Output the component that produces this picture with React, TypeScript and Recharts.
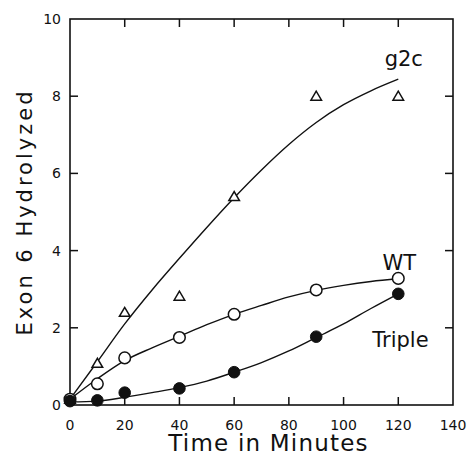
import React from 'react';
import { ComposedChart, Line, Scatter, XAxis, YAxis, ReferenceDot } from 'recharts';

// Fitted curve samples
const fitTimes = [0, 10, 20, 30, 40, 50, 60, 70, 80, 90, 100, 110, 120];
const g2cFit = [0.15, 1.12, 2.1, 2.98, 3.8, 4.6, 5.37, 6.09, 6.75, 7.32, 7.78, 8.14, 8.44];
const wtFit = [0.15, 0.68, 1.15, 1.48, 1.78, 2.08, 2.35, 2.58, 2.8, 2.97, 3.1, 3.2, 3.27];
const tripleFit = [0.08, 0.1, 0.2, 0.32, 0.45, 0.62, 0.85, 1.1, 1.4, 1.75, 2.1, 2.5, 2.88];

// Measured points
const pointTimes = [0, 10, 20, 40, 60, 90, 120];
const g2cPoints = [0.15, 1.08, 2.4, 2.82, 5.4, 8.0, 8.0];
const wtPoints = [0.15, 0.55, 1.22, 1.75, 2.35, 2.98, 3.28];
const triplePoints = [0.1, 0.12, 0.32, 0.43, 0.85, 1.77, 2.88];

const xTicks = [0, 20, 40, 60, 80, 100, 120, 140];
const yTicks = [0, 2, 4, 6, 8, 10];
const innerXTicks = [20, 40, 60, 80, 100, 120];
const innerYTicks = [2, 4, 6, 8];

const seriesLabels = [
  { text: 'g2c', x: 122, y: 8.97 },
  { text: 'WT', x: 120.4, y: 3.68 },
  { text: 'Triple', x: 120.8, y: 1.69 },
];

const X_MIN = 0;
const X_MAX = 140;
const Y_MIN = 0;
const Y_MAX = 10;

// layout
const CHART_W = 471;
const CHART_H = 453;
const MARGIN = { top: 19, right: 18, bottom: 0, left: 0 };
const Y_AXIS_W = 70;
const X_AXIS_H = 48;
const PLOT_W = CHART_W - MARGIN.left - MARGIN.right - Y_AXIS_W;
const PLOT_H = CHART_H - MARGIN.top - MARGIN.bottom - X_AXIS_H;
const TICK_LEN = 8;

const INK = '#111';
const FONT = 'DejaVu Sans';

const pair = (xs: number[], ys: number[]) => xs.map((x, i) => ({ x, y: ys[i] }));

const frameAnchor = [{ x: X_MIN, y: Y_MAX }];
const bottomTickPts = innerXTicks.map((t) => ({ x: t, y: Y_MIN }));
const topTickPts = innerXTicks.map((t) => ({ x: t, y: Y_MAX }));
const leftTickPts = innerYTicks.map((t) => ({ x: X_MIN, y: t }));
const rightTickPts = innerYTicks.map((t) => ({ x: X_MAX, y: t }));

const FrameShape = (p: any) => (
  <rect x={p.cx} y={p.cy} width={PLOT_W} height={PLOT_H} fill="none" stroke={INK} strokeWidth={1.6} />
);
const UpTick = (p: any) => <path d={`M${p.cx},${p.cy}V${p.cy - TICK_LEN}`} stroke={INK} strokeWidth={1.5} fill="none" />;
const DownTick = (p: any) => <path d={`M${p.cx},${p.cy}V${p.cy + TICK_LEN}`} stroke={INK} strokeWidth={1.5} fill="none" />;
const RightwardTick = (p: any) => <path d={`M${p.cx},${p.cy}H${p.cx + TICK_LEN}`} stroke={INK} strokeWidth={1.5} fill="none" />;
const LeftwardTick = (p: any) => <path d={`M${p.cx},${p.cy}H${p.cx - TICK_LEN}`} stroke={INK} strokeWidth={1.5} fill="none" />;

const BottomTick = (props: any) => {
  const { x, y, payload } = props;
  return (
    <text x={x} y={y + 25} textAnchor="middle" fontSize={14} fontFamily={FONT} fill={INK}>
      {payload.value}
    </text>
  );
};

const LeftTick = (props: any) => {
  const { x, y, payload } = props;
  return (
    <text x={x - 9} y={y + 5} textAnchor="end" fontSize={14} fontFamily={FONT} fill={INK}>
      {payload.value}
    </text>
  );
};

const Triangle = (props: any) => {
  const { cx, cy } = props;
  return (
    <polygon
      points={`${cx},${cy - 5} ${cx - 5.3},${cy + 4} ${cx + 5.3},${cy + 4}`}
      fill="#fff"
      stroke={INK}
      strokeWidth={1.5}
    />
  );
};

const OpenCircle = (props: any) => {
  const { cx, cy } = props;
  return <circle cx={cx} cy={cy} r={5.8} fill="#fff" stroke={INK} strokeWidth={1.5} />;
};

const FilledCircle = (props: any) => {
  const { cx, cy } = props;
  return <circle cx={cx} cy={cy} r={5.8} fill={INK} stroke={INK} strokeWidth={1} />;
};

export default function App() {
  return (
    <div style={{ position: 'absolute', left: 0, top: 0, width: CHART_W, height: CHART_H, background: '#fff' }}>
      <ComposedChart width={CHART_W} height={CHART_H} margin={MARGIN}>
        <XAxis
          dataKey="x"
          type="number"
          domain={[X_MIN, X_MAX]}
          ticks={xTicks}
          tickSize={0}
          tickMargin={0}
          tickLine={false}
          axisLine={false}
          tick={<BottomTick />}
          height={X_AXIS_H}
          label={({ viewBox }: any) => (
            <text
              x={viewBox.x + viewBox.width / 2 + 7}
              y={viewBox.y + 46}
              textAnchor="middle"
              fontSize={23}
              letterSpacing={1.2}
              fontFamily={FONT}
              fill={INK}
            >
              Time in Minutes
            </text>
          )}
        />
        <YAxis
          type="number"
          domain={[Y_MIN, Y_MAX]}
          ticks={yTicks}
          tickSize={0}
          tickMargin={0}
          tickLine={false}
          axisLine={false}
          tick={<LeftTick />}
          width={Y_AXIS_W}
          label={({ viewBox }: any) => {
            const cx = viewBox.x + 25;
            const cy = viewBox.y + viewBox.height / 2;
            return (
              <text
                x={cx}
                y={cy}
                transform={`rotate(-90 ${cx} ${cy})`}
                textAnchor="middle"
                dominantBaseline="central"
                fontSize={21}
                letterSpacing={3}
                fontFamily={FONT}
                fill={INK}
              >
                Exon 6 Hydrolyzed
              </text>
            );
          }}
        />

        <Scatter data={frameAnchor} dataKey="y" shape={<FrameShape />} isAnimationActive={false} />
        <Scatter data={bottomTickPts} dataKey="y" shape={<UpTick />} isAnimationActive={false} />
        <Scatter data={topTickPts} dataKey="y" shape={<DownTick />} isAnimationActive={false} />
        <Scatter data={leftTickPts} dataKey="y" shape={<RightwardTick />} isAnimationActive={false} />
        <Scatter data={rightTickPts} dataKey="y" shape={<LeftwardTick />} isAnimationActive={false} />

        <Line data={pair(fitTimes, g2cFit)} dataKey="y" type="monotone" stroke={INK} strokeWidth={1.4} dot={false} isAnimationActive={false} />
        <Line data={pair(fitTimes, wtFit)} dataKey="y" type="monotone" stroke={INK} strokeWidth={1.4} dot={false} isAnimationActive={false} />
        <Line data={pair(fitTimes, tripleFit)} dataKey="y" type="monotone" stroke={INK} strokeWidth={1.4} dot={false} isAnimationActive={false} />

        <Scatter data={pair(pointTimes, g2cPoints)} dataKey="y" shape={<Triangle />} isAnimationActive={false} />
        <Scatter data={pair(pointTimes, wtPoints)} dataKey="y" shape={<OpenCircle />} isAnimationActive={false} />
        <Scatter data={pair(pointTimes, triplePoints)} dataKey="y" shape={<FilledCircle />} isAnimationActive={false} />

        {seriesLabels.map((l) => (
          <ReferenceDot
            key={l.text}
            x={l.x}
            y={l.y}
            r={0}
            fill="none"
            stroke="none"
            ifOverflow="visible"
            label={{ value: l.text, position: 'center', fontSize: 21, fontFamily: FONT, fill: INK }}
          />
        ))}
      </ComposedChart>
    </div>
  );
}
